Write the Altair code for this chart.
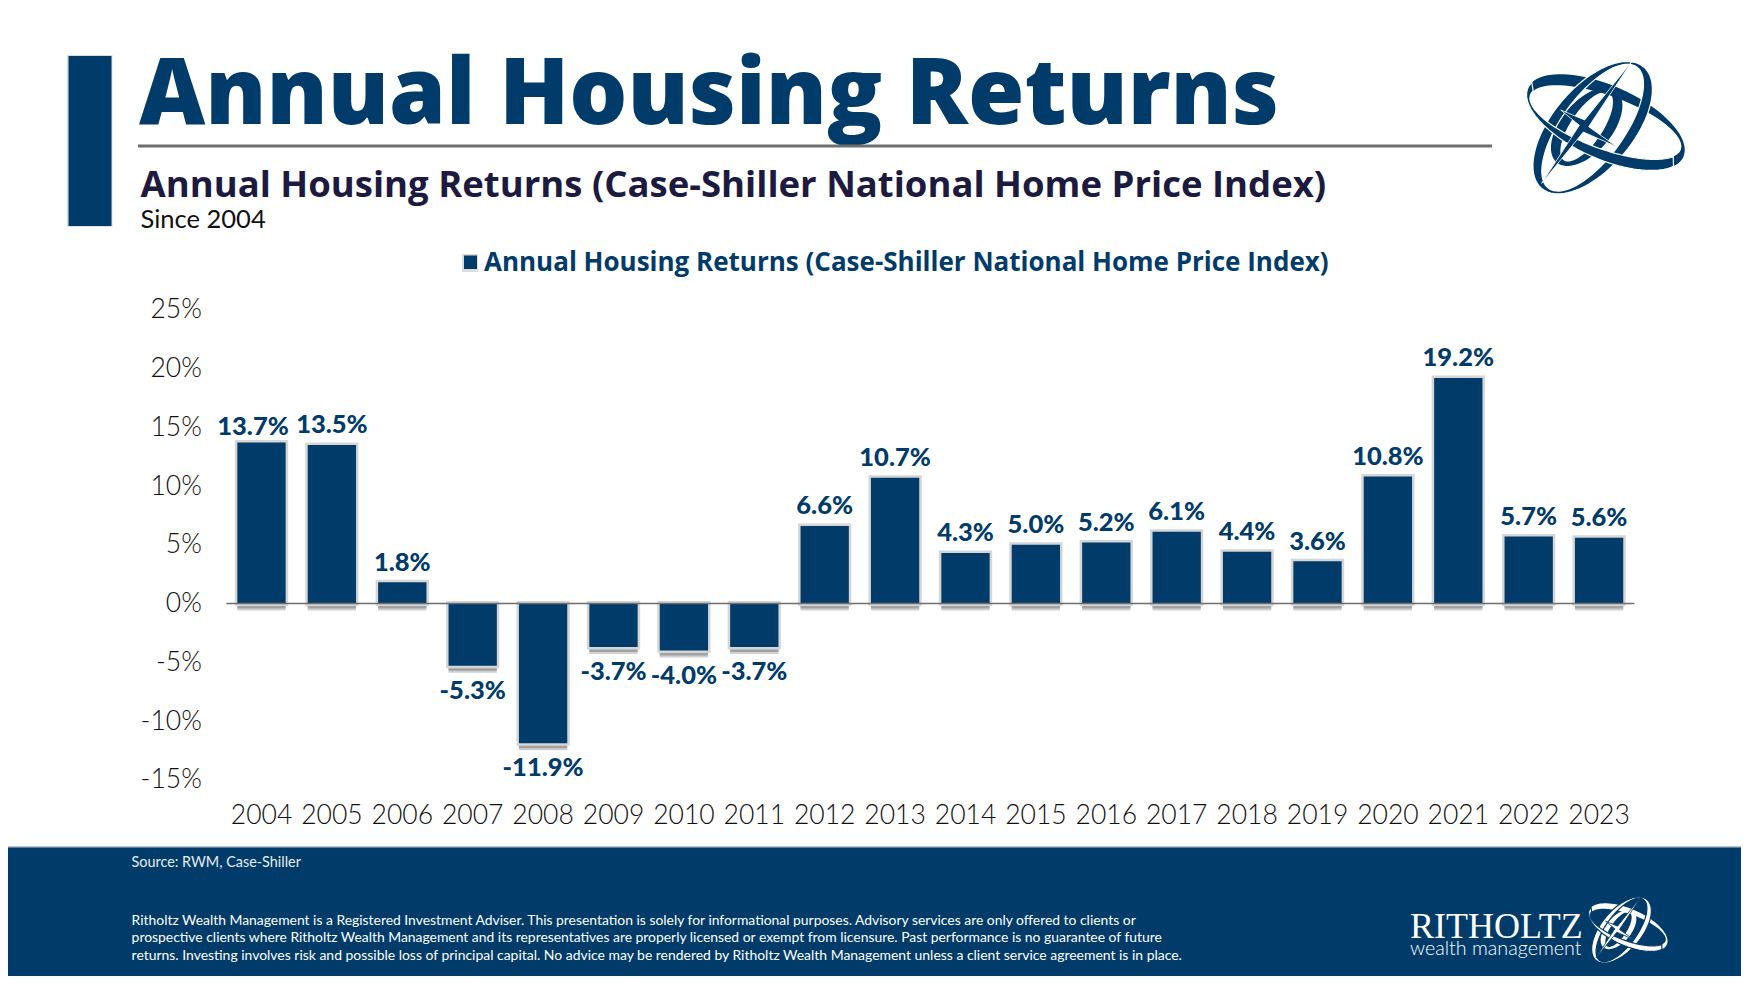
import numpy as np
import pandas as pd
import altair as alt

# ---------- chart values ----------
years = ["2004", "2005", "2006", "2007", "2008", "2009", "2010", "2011", "2012", "2013",
         "2014", "2015", "2016", "2017", "2018", "2019", "2020", "2021", "2022", "2023"]
returns = [13.7, 13.5, 1.8, -5.3, -11.9, -3.7, -4.0, -3.7, 6.6, 10.7,
           4.3, 5.0, 5.2, 6.1, 4.4, 3.6, 10.8, 19.2, 5.7, 5.6]
y_ticks = [25, 20, 15, 10, 5, 0, -5, -10, -15]

title_text = "Annual Housing Returns"
subtitle_text = "Annual Housing Returns (Case-Shiller National Home Price Index)"
since_text = "Since 2004"
legend_text = "Annual Housing Returns (Case-Shiller National Home Price Index)"
source_text = "Source: RWM, Case-Shiller"
disclaimer = [
    "Ritholtz Wealth Management is a Registered Investment Adviser. This presentation is solely for informational purposes. Advisory services are only offered to clients or",
    "prospective clients where Ritholtz Wealth Management and its representatives are properly licensed or exempt from licensure. Past performance is no guarantee of future",
    "returns. Investing involves risk and possible loss of principal capital. No advice may be rendered by Ritholtz Wealth Management unless a client service agreement is in place.",
]

NAVY = "#003b6a"
PW, PH = 1408, 470           # plot area
PL, PT = 226.3, 309.75       # plot origin in page pixels
BODY = "Lato"
HEAD = "Open Sans"

df = pd.DataFrame({"year": years, "ret": returns})
df["label"] = [f"{v:.1f}%" for v in returns]

X = alt.X("year:N", sort=years, title=None,
          scale=alt.Scale(paddingInner=0.314, paddingOuter=0.157),
          axis=alt.Axis(domain=False, ticks=False, grid=False, labelAngle=0, labelPadding=23,
                        labelFont=BODY, labelFontSize=26.5, labelColor="#111111", labelFontWeight=300))
Y = alt.Y("ret:Q", title=None, scale=alt.Scale(domain=[-15, 25], nice=False),
          axis=alt.Axis(values=y_ticks, domain=False, ticks=False, grid=False, labelPadding=25,
                        labelFont=BODY, labelFontSize=26.5, labelColor="#111111", labelFontWeight=300,
                        labelExpr="datum.value + '%'", labelBaseline="middle", labelOverlap=False))
Y2 = alt.Y2(datum=0)


def px(v):
    return v - PL


def py(v):
    return v - PT


one = alt.Data(values=[{"k": 1}])


def rect(x0, x1, y0, y1, color, **kw):
    return alt.Chart(one).mark_rect(color=color, **kw).encode(
        x=alt.value(px(x0)), x2=alt.value(px(x1)), y=alt.value(py(y0)), y2=alt.value(py(y1)))


def text(t, x, y, font, size, color, weight=400, align="left"):
    return alt.Chart(alt.Data(values=[{"t": t}])).mark_text(
        font=font, fontSize=size, color=color, fontWeight=weight, align=align, baseline="alphabetic"
    ).encode(text="t:N", x=alt.value(px(x)), y=alt.value(py(y)))


def ell(t, cx, cy, a, b, ang):
    c, s = np.cos(np.radians(ang)), np.sin(np.radians(ang))
    ex, ey = a * np.cos(t), b * np.sin(t)
    return cx + ex * c - ey * s, cy + ex * s + ey * c


def to_path(xs, ys):
    return "M" + "L".join(f"{x:.1f} {y:.1f}" for x, y in zip(xs, ys)) + "Z"


def ring(o, i, t0=0.0, t1=360.0):
    t = np.radians(np.linspace(t0, t1, 90))
    ox, oy = ell(t, *o)
    ix, iy = ell(t[::-1], *i)
    if t1 - t0 >= 360:
        return to_path(ox, oy) + to_path(ix, iy)
    return to_path(np.r_[ox, ix], np.r_[oy, iy])


# logo geometry, in units of the enlarged crop, centred on (617, 293)
OFF = 617, 293
ringA_o = (578 - OFF[0], 293 - OFF[1], 238, 122, -50)
ringA_i = (578 - OFF[0], 293 - OFF[1], 225, 94, -54)
ringB_o = (617 - OFF[0], 277 - OFF[1], 255, 110, 24)
ringB_i = (617 - OFF[0], 277 - OFF[1], 240, 80, 20)
ringC_o = (560 - OFF[0], 290 - OFF[1], 140, 76, -50)
ringC_i = (560 - OFF[0], 290 - OFF[1], 122, 48, -56)
star = [(695, 95), (566, 290), (650, 350), (550, 306), (425, 460), (538, 286), (482, 240), (554, 270)]
star_path = to_path([p[0] - OFF[0] for p in star], [p[1] - OFF[1] for p in star])


def logo(cx, cy, scale, fill, edge):
    size = (2 * scale) ** 2

    def piece(path, sw=0.0):
        return alt.Chart(one).mark_point(shape=path, size=size, filled=True, opacity=1, color=fill,
                                         stroke=edge, strokeWidth=sw).encode(
            x=alt.value(px(cx)), y=alt.value(py(cy)))

    return [
        piece(ring(ringC_o, ringC_i)),
        piece(ring(ringB_o, ringB_i)),
        piece(ring(ringA_o, ringA_i), 1.2),
        piece(ring(ringB_o, ringB_i, 20, 190), 1.2),
        piece(star_path, 0.8),
    ]


shadow2 = alt.Chart(df).mark_bar(color="#d0d0d0", yOffset=7, y2Offset=7).encode(x=X, y=Y, y2=Y2)
shadow = alt.Chart(df).mark_bar(color="#a2a2a2", yOffset=5, y2Offset=5).encode(x=X, y=Y, y2=Y2)
halo = alt.Chart(df).mark_bar(color=NAVY, stroke="#d6d6d6", strokeWidth=5).encode(x=X, y=Y, y2=Y2)
bars = alt.Chart(df).mark_bar(color=NAVY).encode(x=X, y=Y, y2=Y2)
zero = alt.Chart(alt.Data(values=[{"ret": 0}])).mark_rule(color="#6e6e6e", strokeWidth=1.6).encode(
    y=Y, x=alt.value(0), x2=alt.value(PW))

lab_kw = dict(font=BODY, fontSize=25.5, fontWeight=900, color=NAVY)
lab_first = alt.Chart(df[df.year == "2004"]).mark_text(baseline="bottom", dy=-3, dx=-8.5, **lab_kw).encode(
    x=X, y=Y, text="label:N")
lab_pos = alt.Chart(df[(df.ret > 0) & (df.year != "2004")]).mark_text(baseline="bottom", dy=-6.5, **lab_kw).encode(
    x=X, y=Y, text="label:N")
lab_neg = alt.Chart(df[df.ret < 0]).mark_text(baseline="top", dy=13, **lab_kw).encode(
    x=X, y=Y, text="label:N")

layers = [
    shadow2, shadow, halo, bars, zero, lab_first, lab_pos, lab_neg,
    # page furniture
    rect(67, 112.5, 55, 227, "#d8dfe6"),
    rect(68.5, 111.5, 56, 226, NAVY),
    text(title_text, 139, 124, HEAD, 91.4, NAVY, 800),
    rect(138, 1492, 144.5, 147.5, "#6e6e6e"),
    text(subtitle_text, 140.5, 196.5, HEAD, 36.5, "#1d1a3f", 700),
    text(since_text, 140.5, 227.5, BODY, 25.5, "#111111"),
    rect(462, 478, 254, 272, "#dcdcdc"),
    rect(464, 477, 255.5, 269, NAVY),
    text(legend_text, 484, 270.5, HEAD, 26, NAVY, 700),
    rect(8, 1741, 846, 848, "#b8c4cf"),
    rect(8, 1741, 847.5, 976, NAVY),
    text(source_text, 131.6, 866.5, BODY, 14.4, "#e8edf2"),
    text(disclaimer[0], 131.6, 925, BODY, 13.9, "#ffffff"),
    text(disclaimer[1], 131.6, 942, BODY, 13.9, "#ffffff"),
    text(disclaimer[2], 131.6, 959.5, BODY, 13.95, "#ffffff"),
    text("RITHOLTZ", 1410, 938, "Liberation Serif", 36, "#ffffff"),
    text("wealth management", 1410, 955, BODY, 19.7, "#ffffff", 300),
    *logo(1400 + 617 / 3, 30 + 293 / 3, 1 / 3, NAVY, "#ffffff"),
    *logo(1628, 930, 1 / 6, "#ffffff", NAVY),
]

chart = alt.layer(*layers).properties(
    width=PW, height=PH,
    padding={"left": PL - 8, "top": PT - 8, "right": 1733 - (PL - 8) - PW, "bottom": 968 - (PT - 8) - PH},
    autosize=alt.AutoSizeParams(type="none"),
    background="#ffffff",
).resolve_scale(y="shared", x="shared").configure_view(stroke=None)

chart.save("out.html", embed_options={"renderer": "svg", "actions": False})
